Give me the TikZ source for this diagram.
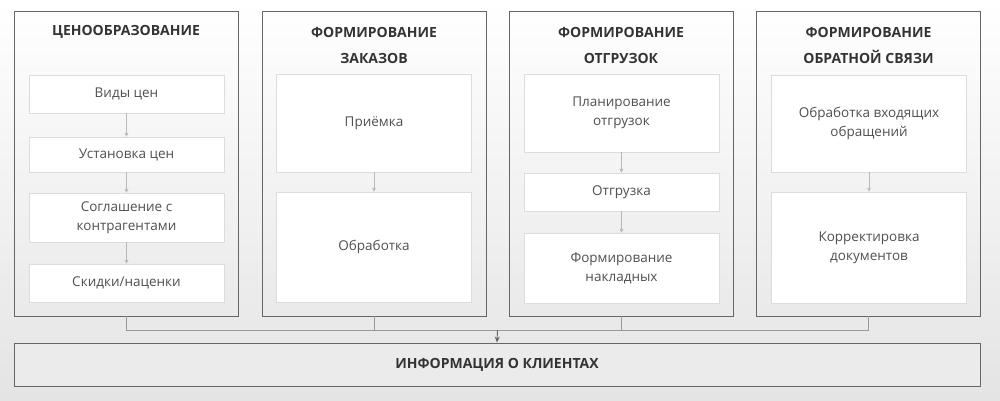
\documentclass[tikz,border=0pt]{standalone}
\usepackage{fontspec}
\setmainfont{Open Sans}
\usetikzlibrary{arrows.meta}
\definecolor{outerln}{HTML}{666666}
\definecolor{innerln}{HTML}{DCDCDC}
\definecolor{txt}{HTML}{505050}
\definecolor{titletxt}{HTML}{333333}
\definecolor{bggray}{HTML}{E4E4E4}
\definecolor{infofill}{HTML}{EBEBEB}
\definecolor{arrowgray}{HTML}{B8B8B8}
\definecolor{connln}{HTML}{9A9A9A}
\begin{document}
\begin{tikzpicture}[x=1pt,y=-1pt,
  outerbox/.style={draw=outerln,line width=0.9pt,minimum width=224pt,minimum height=305pt,inner sep=0pt},
  innerbox/.style={draw=innerln,fill=white,line width=0.8pt,minimum width=195pt,inner sep=0pt,
    text=txt,align=center,font=\fontsize{13.5}{19}\selectfont},
  titlenode/.style={text=titletxt,align=center,font=\bfseries\fontsize{14}{26}\selectfont},
  flow/.style={draw=arrowgray,line width=0.7pt,-{Stealth[length=4pt,width=4pt]}},
  conn/.style={draw=connln,line width=0.9pt},
  mainarrow/.style={draw=outerln,line width=0.9pt,-{Stealth[length=6pt,width=5pt]}}
]
\useasboundingbox (0,0) rectangle (1000,400);
\shade[top color=white,middle color=white,bottom color=bggray] (0,0) rectangle (1000,400);

% outer columns
\node[outerbox] (c1) at (126,163.5) {};
\node[outerbox] (c2) at (374,163.5) {};
\node[outerbox] (c3) at (621,163.5) {};
\node[outerbox] (c4) at (868.5,163.5) {};

% titles
\node[titlenode] (t1) at (126,32) {ЦЕНООБРАЗОВАНИЕ};
\node[titlenode] (t2) at (374,45) {ФОРМИРОВАНИЕ\\ЗАКАЗОВ};
\node[titlenode] (t3) at (621,45) {ФОРМИРОВАНИЕ\\ОТГРУЗОК};
\node[titlenode] (t4) at (868.5,45) {ФОРМИРОВАНИЕ\\ОБРАТНОЙ СВЯЗИ};

% column 1
\node[innerbox,minimum height=38pt] (a1) at (126.5,94) {Виды цен};
\node[innerbox,minimum height=35pt] (a2) at (126.5,154.5) {Установка цен};
\node[innerbox,minimum height=49pt] (a3) at (126.5,217.5) {Соглашение с\\контрагентами};
\node[innerbox,minimum height=38pt] (a4) at (126.5,283) {Скидки/наценки};
\draw[flow] (a1) -- (a2);
\draw[flow] (a2) -- (a3);
\draw[flow] (a3) -- (a4);

% column 2
\node[innerbox,minimum height=98pt] (b1) at (374,123) {Приёмка};
\node[innerbox,minimum height=110pt] (b2) at (374,247) {Обработка};
\draw[flow] (b1) -- (b2);

% column 3
\node[innerbox,minimum height=78pt] (d1) at (621.5,113) {Планирование\\отгрузок};
\node[innerbox,minimum height=38pt] (d2) at (621.5,192) {Отгрузка};
\node[innerbox,minimum height=70pt] (d3) at (621.5,268) {Формирование\\накладных};
\draw[flow] (d1) -- (d2);
\draw[flow] (d2) -- (d3);

% column 4
\node[innerbox,minimum height=97pt] (e1) at (869,123.5) {Обработка входящих\\обращений};
\node[innerbox,minimum height=111pt] (e2) at (869,247.5) {Корректировка\\документов};
\draw[flow] (e1) -- (e2);

% info box
\node[draw=outerln,fill=infofill,line width=0.9pt,minimum width=966pt,minimum height=43pt,inner sep=0pt,
  text=titletxt,font=\bfseries\fontsize{14}{16}\selectfont] (info) at (497,364.5) {ИНФОРМАЦИЯ О КЛИЕНТАХ};

% connectors
\coordinate (j) at (497.5,330);
\draw[conn] (c1.south) -- (c1.south |- j) -- (c4.south |- j) -- (c4.south);
\draw[conn] (c2.south) -- (c2.south |- j);
\draw[conn] (c3.south) -- (c3.south |- j);
\draw[mainarrow] (j) -- (info.north);
\end{tikzpicture}
\end{document}
